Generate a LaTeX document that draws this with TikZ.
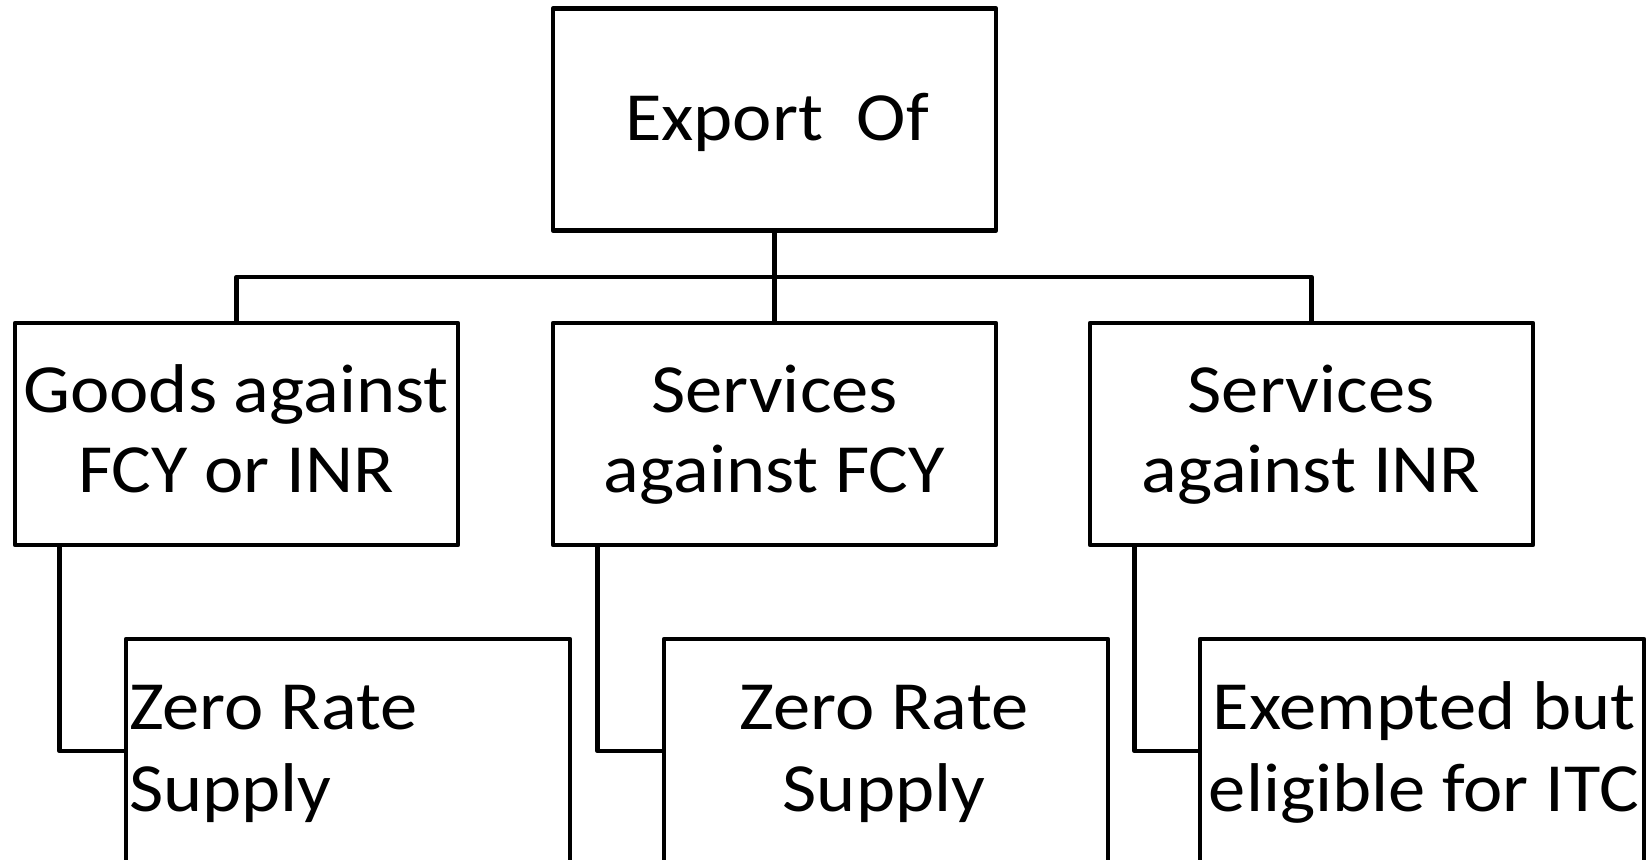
\documentclass[tikz,border=0pt]{standalone}
\usepackage{fontspec}
\setmainfont[FakeStretch=1.08]{Carlito}
\begin{document}
\begin{tikzpicture}[x=1pt,y=-1pt,
  box/.style={draw=black,line width=4.5pt,line join=round,rectangle,inner sep=0pt,outer sep=0pt,minimum width=443pt,minimum height=222pt},
  lowbox/.style={box,minimum width=444pt,minimum height=224pt},
  conn/.style={draw=black,line width=4.5pt,line join=round},
  txt/.style={inner sep=0pt,outer sep=0pt,font=\fontsize{69}{80}\selectfont}]
\useasboundingbox (0,0) rectangle (1648,859);
\clip (0,0) rectangle (1648,859);
% boxes
\node[box] (top) at (774.5,119.5) {};
\node[box] (b1) at (236.5,434) {};
\node[box] (b2) at (774.5,434) {};
\node[box] (b3) at (1311.5,434) {};
\node[lowbox] (c1) at (348,751) {};
\node[lowbox] (c2) at (886,751) {};
\node[lowbox] (c3) at (1422,751) {};
% texts
\node[txt,anchor=base] (ttop) at (777,140) {Export~\ Of};
\node[txt,anchor=base] (tb1a) at (236,412) {Goods against};
\node[txt,anchor=base] (tb1b) at (236,492) {FCY or INR};
\node[txt,anchor=base] (tb2a) at (774.5,412) {Services};
\node[txt,anchor=base] (tb2b) at (774.5,492) {against FCY};
\node[txt,anchor=base] (tb3a) at (1311,412) {Services};
\node[txt,anchor=base] (tb3b) at (1311,492) {against INR};
\node[txt,anchor=base west] (tc1a) at (129,729) {Zero Rate};
\node[txt,anchor=base west] (tc1b) at (129,811.5) {Supply};
\node[txt,anchor=base] (tc2a) at (884,729) {Zero Rate};
\node[txt,anchor=base] (tc2b) at (884,811.5) {Supply};
\node[txt,anchor=base] (tc3a) at (1424,729) {Exempted but};
\node[txt,anchor=base] (tc3b) at (1424,811.5) {eligible for ITC};
% connectors
\draw[conn] (top.south) -- (b2.north);
\draw[conn] (b1.north) -- ++(0,-46) -| (b3.north);
\draw[conn] ([xshift=44.5pt]b1.south west) |- (c1.west);
\draw[conn] ([xshift=44.5pt]b2.south west) |- (c2.west);
\draw[conn] ([xshift=44.5pt]b3.south west) |- (c3.west);
\end{tikzpicture}
\end{document}
